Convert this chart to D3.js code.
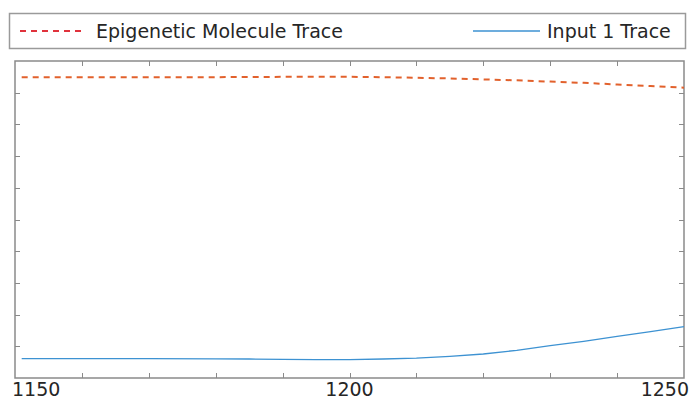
<!DOCTYPE html>
<html><head><meta charset="utf-8">
<script src="https://cdn.jsdelivr.net/npm/d3@7"></script>
<style>body{margin:0;background:#fff}svg{display:block}</style>
</head><body>
<script>
const xValues = [1151,1160,1170,1180,1185,1190,1195,1200,1205,1210,1215,1220,1225,1230,1235,1240,1245,1250];
const epigenetic = [9.49,9.49,9.49,9.49,9.495,9.50,9.50,9.50,9.49,9.47,9.45,9.42,9.39,9.35,9.31,9.26,9.21,9.16];
const input1 = [0.61,0.61,0.61,0.605,0.60,0.59,0.58,0.58,0.60,0.63,0.685,0.757,0.874,1.019,1.158,1.315,1.46,1.618];
const xTicks = [1150,1160,1170,1180,1190,1200,1210,1220,1230,1240,1250];
const xTickLabels = ["1150","1200","1250"];
const yTicks = [0,1,2,3,4,5,6,7,8,9,10];
const seriesNames = ["Epigenetic Molecule Trace","Input 1 Trace"];

const W=693,H=401;
const L=15,R=684,T=61,B=378;
const svg=d3.select("body").append("svg").attr("width",W).attr("height",H);
const x=d3.scaleLinear().domain([1150,1250]).range([L,R]);
const y=d3.scaleLinear().domain([0,10]).range([B,T]);
const axisCol="#8a8a8a", tl=5;
const g=svg.append("g");
const tg=g.append("g").attr("stroke",axisCol).attr("stroke-width",1);
xTicks.slice(1,-1).forEach(v=>{
  const px=Math.round(x(v))+0.5;
  tg.append("line").attr("x1",px).attr("x2",px).attr("y1",B).attr("y2",B-tl);
  tg.append("line").attr("x1",px).attr("x2",px).attr("y1",T).attr("y2",T+tl);
});
yTicks.slice(1,-1).forEach(v=>{
  const py=Math.round(y(v))+0.5;
  tg.append("line").attr("x1",L).attr("x2",L+tl).attr("y1",py).attr("y2",py);
  tg.append("line").attr("x1",R).attr("x2",R-tl).attr("y1",py).attr("y2",py);
});
g.append("rect").attr("x",L).attr("y",T).attr("width",R-L).attr("height",B-T)
  .attr("fill","none").attr("stroke",axisCol).attr("stroke-width",1.5);
const lab=g.append("g").attr("font-family","DejaVu Sans").attr("font-size",19).attr("fill","#262626");
xTickLabels.forEach((t,i)=>{
  const v=+t;
  const anchor = i===0?"start":(i===xTickLabels.length-1?"end":"middle");
  const px = i===0? x(v)-3 : (i===xTickLabels.length-1? x(v)+5 : x(v));
  lab.append("text").attr("x",px).attr("y",396).attr("text-anchor",anchor).text(t);
});
const line=(arr)=>d3.line().x((d,i)=>x(xValues[i])).y(d=>y(d))(arr);
svg.append("path").attr("d",line(epigenetic)).attr("fill","none")
  .attr("stroke","#e2612c").attr("stroke-width",2).attr("stroke-dasharray","6,5");
svg.append("path").attr("d",line(input1)).attr("fill","none")
  .attr("stroke","#3d92d2").attr("stroke-width",1.3);
const lg=svg.append("g");
lg.append("rect").attr("x",9.5).attr("y",13.5).attr("width",676).attr("height",35)
  .attr("fill","#fff").attr("stroke","#9a9a9a").attr("stroke-width",1.5);
lg.append("line").attr("x1",20).attr("x2",84).attr("y1",31).attr("y2",31)
  .attr("stroke","#e0323c").attr("stroke-width",2).attr("stroke-dasharray","6,5");
lg.append("line").attr("x1",473).attr("x2",540).attr("y1",31).attr("y2",31)
  .attr("stroke","#3d92d2").attr("stroke-width",1.3);
const lt=lg.append("g").attr("font-family","DejaVu Sans").attr("font-size",19).attr("fill","#262626");
lt.append("text").attr("x",96).attr("y",37.5).text(seriesNames[0]);
lt.append("text").attr("x",547).attr("y",37.5).text(seriesNames[1]);
</script>
</body></html>
